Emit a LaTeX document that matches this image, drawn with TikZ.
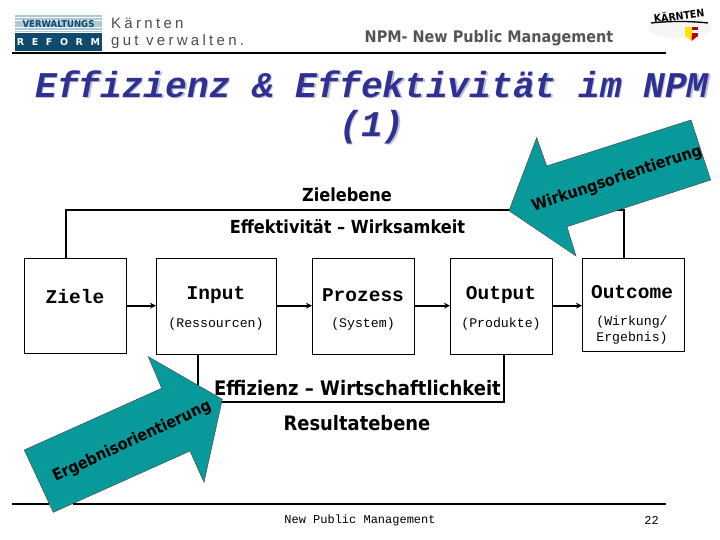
\documentclass[tikz,border=0pt]{standalone}
\usepackage{fontspec}
\usetikzlibrary{arrows.meta,calc}
\setmainfont{Liberation Sans}
\newfontfamily\monof{Liberation Mono}
\newfontfamily\headf[BoldFont={DejaVu Sans Bold},FakeStretch=0.9]{DejaVu Sans}
\newfontfamily\logof[LetterSpace=22]{Liberation Sans}
\newfontfamily\reff[LetterSpace=45,BoldFont={DejaVu Sans Bold}]{DejaVu Sans}
\definecolor{teal1}{HTML}{089A9A}
\definecolor{titleblue}{HTML}{2F3192}
\definecolor{titleshadow}{HTML}{BFC2D6}
\definecolor{navy1}{HTML}{0E4A6C}
\definecolor{pale1}{HTML}{AEC8D6}
\definecolor{greytxt}{HTML}{555555}
\tikzset{
  box/.style={draw=black,line width=1pt,fill=white,inner sep=0pt},
  flow/.style={line width=1.9pt,-{Stealth[length=6pt,width=6pt]}},
  frameline/.style={line width=2pt,line join=miter},
  rulex/.style={line width=2pt},
  bigarrow/.style={draw=black!70,line width=0.5pt,fill=teal1,line join=miter},
  maintitle/.style={inner sep=0pt,text=titleblue,font=\monof\bfseries\itshape\fontsize{36.2}{36}\selectfont},
  shadowtitle/.style={inner sep=0pt,text=titleshadow,font=\monof\bfseries\itshape\fontsize{36.2}{36}\selectfont},
  head/.style={inner sep=0pt,font=\headf\bfseries\fontsize{18}{20}\selectfont},
  arrowtxt/.style={inner sep=0pt,font=\headf\bfseries\fontsize{16}{18}\selectfont},
  bigmono/.style={inner sep=0pt,font=\monof\bfseries\fontsize{19.5}{19}\selectfont},
  smallmono/.style={inner sep=0pt,font=\monof\fontsize{13.2}{13}\selectfont},
  footmono/.style={inner sep=0pt,font=\monof\fontsize{12}{12}\selectfont},
}
\begin{document}
\begin{tikzpicture}[x=1pt,y=-1pt]
\useasboundingbox (0,0) rectangle (720,540);
\fill[white] (0,0) rectangle (720,540);

% left logo
\fill[pale1] (15.3,15) rectangle (101.7,32.5);
\foreach \yy in {17.5,20.5,27.5,30}{\draw[white,line width=0.7pt] (15.3,\yy) -- (101.7,\yy);}
\node[inner sep=0pt,text=navy1,font=\headf\bfseries\fontsize{9.5}{10}\selectfont] (lv) at (58.5,23.7) {VERWALTUNGS};
\fill[navy1] (15.3,32.7) rectangle (101.7,50.7);
\node[inner sep=0pt,text=white,font=\reff\bfseries\fontsize{9.5}{10}\selectfont] (lr) at (58.5,42) {R E F O R M};
\node[inner sep=0pt,anchor=base west,text=black!70,font=\logof\fontsize{15}{15}\selectfont] (lk) at (111,29) {Kärnten};
\node[inner sep=0pt,anchor=base west,text=black!70,font=\logof\fontsize{15}{15}\selectfont] (lg) at (111,46) {gut verwalten.};

% right logo
\fill[black!4] (680,27) ellipse [x radius=32,y radius=11];
\node[inner sep=0pt,rotate=7,font=\headf\bfseries\fontsize{10.5}{12}\selectfont] (rk) at (679,15) {KÄRNTEN};
\draw[black,line width=1.3pt] (651,23) .. controls (670,21) and (690,21) .. (708,23);
\fill[yellow!85!orange] (685,27) rectangle (691.5,36);
\fill[red!75!black] (691.5,27) rectangle (698,36);
\fill[white] (691.5,30.5) rectangle (698,33);
\fill[yellow!85!orange] (685,36) -- (691.5,41) -- (691.5,36) -- cycle;
\fill[red!75!black] (698,36) -- (691.5,41) -- (691.5,36) -- cycle;

% header
\node[inner sep=0pt,text=greytxt,font=\headf\bfseries\fontsize{16}{17}\selectfont] (hd) at (489,38) {NPM- New Public Management};
\coordinate (hl) at (12,53.5); \coordinate (hr) at (666,53.5);
\draw[rulex] (hl) -- (hr);

% title
\node[shadowtitle] (t1s) at (373.5,85.5) {Effizienz \& Effektivität im NPM};
\node[shadowtitle] (t2s) at (373.5,128.5) {(1)};
\node[maintitle] (t1) at (372,84) {Effizienz \& Effektivität im NPM};
\node[maintitle] (t2) at (372,127) {(1)};

% boxes
\node[box,minimum width=102pt,minimum height=95pt] (ziele) at (75.5,305.5) {};
\node[box,minimum width=120pt,minimum height=96pt] (input) at (216.5,306) {};
\node[box,minimum width=102pt,minimum height=96pt] (prozess) at (363.5,306) {};
\node[box,minimum width=102pt,minimum height=96pt] (output) at (501.5,306) {};
\node[box,minimum width=102pt,minimum height=93pt] (outcome) at (633.5,304.5) {};

% frames
\coordinate (topL) at (66,210); \coordinate (topR) at (624,210);
\coordinate (botL) at (198,402); \coordinate (botR) at (504,402);
\draw[frameline] (topL |- ziele.north) -- (topL) -- (topR) -- (topR |- outcome.north);
\draw[frameline] (botL |- input.south) -- (botL) -- (botR) -- (botR |- output.south);

% flows
\draw[flow] (ziele.east |- 0,305.7) -- (input.west |- 0,305.7);
\draw[flow] (input.east |- 0,305.7) -- (prozess.west |- 0,305.7);
\draw[flow] (prozess.east |- 0,305.7) -- (output.west |- 0,305.7);
\draw[flow] (output.east |- 0,305.7) -- (outcome.west |- 0,305.7);

% big arrows
\draw[bigarrow] (509,210.7) -- (536.7,137.7) -- (546.7,166) -- (691,120) -- (710.7,180) -- (567,226.7) -- (576,256) -- cycle;
\draw[bigarrow] (222.3,399.3) -- (148.3,356.7) -- (161.7,388.3) -- (24.3,450) -- (53.3,512.3) -- (190,451) -- (204,482.3) -- cycle;
\draw[rulex] (12,504) -- (49,504);
\draw[rulex] (73,504) -- (666,504);

% labels
\node[arrowtxt,rotate=18.5] (wo) at (617,179) {Wirkungsorientierung};
\node[arrowtxt,rotate=24.8] (eo) at (132,441.5) {Ergebnisorientierung};
\node[head] (ze) at (347,195) {Zielebene};
\node[head] (ew) at (347.5,227) {Effektivität – Wirksamkeit};
\node[head,font=\headf\bfseries\fontsize{20}{22}\selectfont] (ef) at (357.5,388) {Effizienz – Wirtschaftlichkeit};
\node[head,font=\headf\bfseries\fontsize{19.9}{22}\selectfont] (re) at (357,423) {Resultatebene};

\node[bigmono] (lz) at (75,297) {Ziele};
\node[bigmono] (li) at (216,295) {Input};
\node[smallmono] (lis) at (216,324) {(Ressourcen)};
\node[bigmono] (lp) at (363,295) {Prozess};
\node[smallmono] (lps) at (363,324) {(System)};
\node[bigmono] (lo) at (501,295) {Output};
\node[smallmono] (los) at (501,324) {(Produkte)};
\node[bigmono] (lc) at (632,292) {Outcome};
\node[smallmono] (lcs) at (632,322) {(Wirkung/};
\node[smallmono] (lce) at (632,338) {Ergebnis)};

% footer
\node[footmono] (fn) at (360,520.5) {New Public Management};
\node[footmono] (fp) at (651.5,520.5) {22};
\end{tikzpicture}
\end{document}
